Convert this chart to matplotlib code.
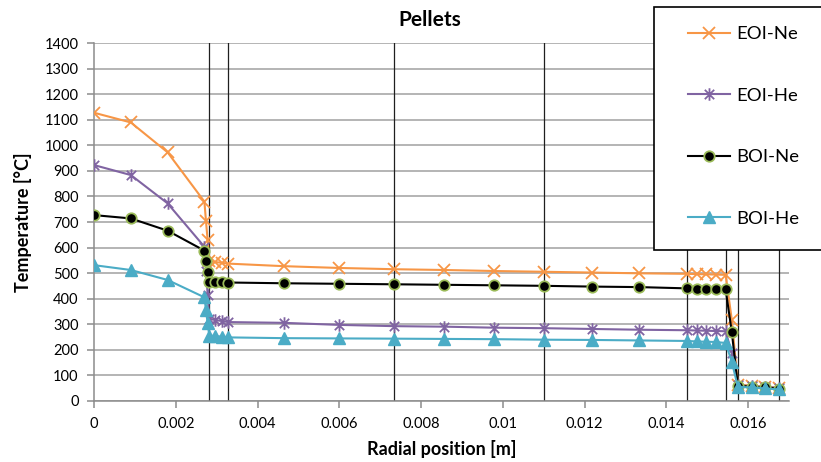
import matplotlib
matplotlib.use("Agg")
import matplotlib.pyplot as plt
from matplotlib.path import Path
from matplotlib.patches import Rectangle
from matplotlib.ticker import MultipleLocator, FuncFormatter

plt.rcParams['font.family'] = ['Lato', 'DejaVu Sans']

# Radial nodes [m]
radius = [0, 0.0009, 0.0018, 0.0027, 0.00274, 0.00278, 0.00282, 0.00297, 0.00313,
          0.00328, 0.00464, 0.00599, 0.00735, 0.00857, 0.00979, 0.01101, 0.01218,
          0.01334, 0.01451, 0.01474, 0.01498, 0.01521, 0.01545, 0.0156, 0.01575,
          0.01609, 0.01642, 0.01676]

# Temperatures [C]
eoi_ne = [1128, 1090, 973, 780, 702, 628, 546, 543, 540, 537, 527, 520, 515, 512,
          508, 505, 502, 499, 497, 496, 495, 494, 493, 318, 63, 59, 55, 51]
eoi_he = [923, 884, 773, 603, 510, 415, 320, 316, 312, 308, 305, 297, 292, 290,
          286, 284, 281, 278, 276, 275, 274, 273, 272, 186, 60, 57, 54, 50]
boi_ne = [727, 714, 666, 588, 547, 506, 466, 465, 464, 463, 460, 458, 456, 454,
          452, 450, 447, 445, 440, 439, 438, 437, 436, 270, 58, 55, 52, 47]
boi_he = [531, 512, 473, 405, 355, 303, 255, 253, 251, 248, 245, 244, 243, 242,
          241, 239, 238, 236, 234, 232, 231, 230, 226, 153, 54, 52, 48, 44]

# Layer boundaries
boundaries = [0.00282, 0.00328, 0.00735, 0.01101, 0.01451, 0.01545, 0.01575, 0.01676]

orange = '#F79646'
purple = '#8064A2'
teal = '#4BACC6'
green = '#9BBB59'
grey = '#8c8c8c'

# Excel style star marker (x with a vertical bar)
star = Path([(0, -1), (0, 1), (-0.75, -0.75), (0.75, 0.75), (-0.75, 0.75), (0.75, -0.75)],
            [Path.MOVETO, Path.LINETO, Path.MOVETO, Path.LINETO, Path.MOVETO, Path.LINETO])

fig = plt.figure(figsize=(8.21, 4.62), dpi=100)
ax = fig.add_axes([94 / 821, 1 - 400.7 / 462, (789 - 94) / 821, (400.7 - 43.3) / 462])

ax.plot(radius, eoi_ne, color=orange, lw=1.5, marker='x', ms=8, mew=1.3, label='EOI-Ne', zorder=3)
ax.plot(radius, eoi_he, color=purple, lw=1.5, marker=star, ms=9, mew=1.3, label='EOI-He', zorder=3)
ax.plot(radius, boi_ne, color='black', lw=1.5, marker='o', ms=7.5, mfc='black', mec=green,
        mew=1.3, label='BOI-Ne', zorder=3)
ax.plot(radius, boi_he, color=teal, lw=1.5, marker='^', ms=8, mfc=teal, mec=teal,
        label='BOI-He', zorder=3)

for b in boundaries:
    ax.axvline(b, color='#1f1f1f', lw=0.9, zorder=2)

ax.set_xlim(0, 0.017)
ax.set_ylim(0, 1400)
ax.xaxis.set_major_locator(MultipleLocator(0.002))
ax.yaxis.set_major_locator(MultipleLocator(100))
ax.xaxis.set_major_formatter(FuncFormatter(lambda v, p: f'{v:g}'))
ax.yaxis.grid(True, color='#a0a0a0', lw=1.1, zorder=1)
ax.set_axisbelow(True)

for s in ['top', 'right']:
    ax.spines[s].set_visible(False)
for s in ['left', 'bottom']:
    ax.spines[s].set_color(grey)
    ax.spines[s].set_linewidth(1.1)
ax.tick_params(axis='both', colors=grey, labelcolor='black', labelsize=10.5, length=5, width=1.1)
ax.tick_params(axis='y', pad=6)
ax.tick_params(axis='x', pad=7)

ax.set_xlabel('Radial position [m]', fontsize=13, fontweight='bold', labelpad=6)
ax.set_ylabel('Temperature [°C]', fontsize=13, fontweight='bold', labelpad=9)
fig.text(430 / 821, 1 - 20 / 462, 'Pellets', fontsize=15, fontweight='bold',
         ha='center', va='center')

# legend box
fig.patches.append(Rectangle((654 / 821, 1 - 250 / 462), 0.3, (250 - 7) / 462,
                             transform=fig.transFigure, facecolor='white',
                             edgecolor='black', lw=1.2, zorder=5))
leg = fig.legend(loc='upper left', bbox_to_anchor=(688 / 821, 1 - 26 / 462),
                 frameon=False, fontsize=13.3, handlelength=2.3, handletextpad=0.3,
                 labelspacing=2.47, borderpad=0, borderaxespad=0)
leg.set_zorder(6)

fig.savefig('out.png', dpi=100)
